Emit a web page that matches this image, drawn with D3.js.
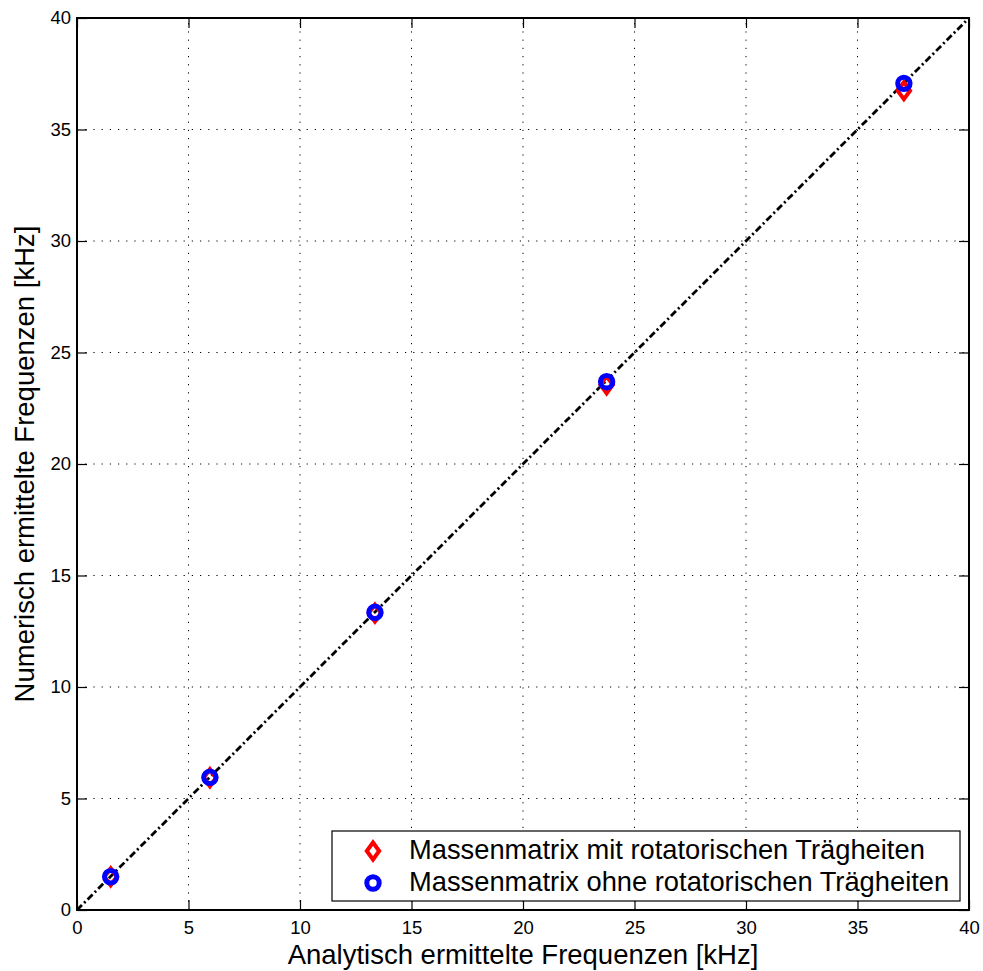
<!DOCTYPE html>
<html>
<head>
<meta charset="utf-8">
<script src="https://cdn.jsdelivr.net/npm/d3@7"></script>
<style>
  body { margin: 0; background: #fff; }
  svg { font-family: "Liberation Sans", Arial, Helvetica, sans-serif; }
  .axis text { font-size: 18.5px; fill: #000; }
  .axis line { stroke: #000; stroke-width: 1.2; }
  .axis path { display: none; }
</style>
</head>
<body>
<svg id="chart"></svg>
<script>
const width = 983;
const height = 971;
const margin = { top: 18, right: 14, bottom: 61, left: 77 };

// data (kHz)
const analytisch = [1.51, 5.96, 13.36, 23.75, 37.08];
const mitRotation = [1.49, 5.93, 13.31, 23.55, 36.74];
const ohneRotation = [1.49, 5.95, 13.35, 23.69, 37.07];
const tickValues = [0, 5, 10, 15, 20, 25, 30, 35, 40];
const legendLabels = [
  "Massenmatrix mit rotatorischen Trägheiten",
  "Massenmatrix ohne rotatorischen Trägheiten"
];

const svg = d3.select("#chart")
  .attr("width", width)
  .attr("height", height);

const x = d3.scaleLinear()
  .domain([0, 40])
  .range([margin.left, width - margin.right]);

const y = d3.scaleLinear()
  .domain([0, 40])
  .range([height - margin.bottom, margin.top]);

// grid
const grid = svg.append("g").attr("class", "grid")
  .attr("stroke", "#000")
  .attr("stroke-width", 1)
  .attr("stroke-dasharray", "1.2,7");

grid.selectAll(".vgrid")
  .data(tickValues.slice(1))
  .enter()
  .append("line")
  .attr("x1", d => x(d)).attr("x2", d => x(d))
  .attr("y1", y(0)).attr("y2", y(40));

grid.selectAll(".hgrid")
  .data(tickValues.slice(1))
  .enter()
  .append("line")
  .attr("x1", x(0)).attr("x2", x(40))
  .attr("y1", d => y(d)).attr("y2", d => y(d));

// axes, ticks pointing inward
svg.append("g")
  .attr("class", "axis")
  .attr("transform", `translate(0, ${y(0)})`)
  .call(d3.axisBottom(x).tickValues(tickValues).tickSizeInner(-10).tickSizeOuter(0).tickPadding(11));

svg.append("g")
  .attr("class", "axis")
  .attr("transform", `translate(${x(0)}, 0)`)
  .call(d3.axisLeft(y).tickValues(tickValues).tickSizeInner(-10).tickSizeOuter(0).tickPadding(6));

svg.append("g")
  .attr("class", "axis")
  .attr("transform", `translate(0, ${y(40)})`)
  .call(d3.axisTop(x).tickValues(tickValues).tickSizeInner(-10).tickSizeOuter(0).tickFormat(""));

svg.append("g")
  .attr("class", "axis")
  .attr("transform", `translate(${x(40)}, 0)`)
  .call(d3.axisRight(y).tickValues(tickValues).tickSizeInner(-10).tickSizeOuter(0).tickFormat(""));

// frame
svg.append("rect")
  .attr("x", x(0))
  .attr("y", y(40))
  .attr("width", x(40) - x(0))
  .attr("height", y(0) - y(40))
  .attr("fill", "none")
  .attr("stroke", "#000")
  .attr("stroke-width", 2);

// diagonal reference line
svg.append("path")
  .datum([0, 40])
  .attr("d", d3.line().x(d => x(d)).y(d => y(d)))
  .attr("fill", "none")
  .attr("stroke", "#000")
  .attr("stroke-width", 2.8)
  .attr("stroke-dasharray", "7,3,2,3");

// markers
const diamond = "M0,-8.5L6.2,0L0,8.5L-6.2,0Z";

svg.selectAll(".mit")
  .data(analytisch)
  .enter()
  .append("path")
  .attr("class", "mit")
  .attr("d", diamond)
  .attr("transform", (d, i) => `translate(${x(d)}, ${y(mitRotation[i])})`)
  .attr("fill", "none")
  .attr("stroke", "#ff0000")
  .attr("stroke-width", 4);

svg.selectAll(".ohne")
  .data(analytisch)
  .enter()
  .append("circle")
  .attr("class", "ohne")
  .attr("cx", d => x(d))
  .attr("cy", (d, i) => y(ohneRotation[i]))
  .attr("r", 6.2)
  .attr("fill", "none")
  .attr("stroke", "#0000ff")
  .attr("stroke-width", 5);

// axis labels
svg.append("text")
  .attr("x", (x(0) + x(40)) / 2)
  .attr("y", 964)
  .attr("text-anchor", "middle")
  .attr("font-size", 27.5)
  .text("Analytisch ermittelte Frequenzen [kHz]");

svg.append("text")
  .attr("transform", `translate(34, ${(y(0) + y(40)) / 2}) rotate(-90)`)
  .attr("text-anchor", "middle")
  .attr("font-size", 27.5)
  .text("Numerisch ermittelte Frequenzen [kHz]");

// legend
const legend = svg.append("g").attr("transform", "translate(332, 831)");

legend.append("rect")
  .attr("width", 628)
  .attr("height", 70)
  .attr("fill", "#fff")
  .attr("stroke", "#000")
  .attr("stroke-width", 1.2);

legend.append("path")
  .attr("d", diamond)
  .attr("transform", "translate(41, 20)")
  .attr("fill", "none")
  .attr("stroke", "#ff0000")
  .attr("stroke-width", 4);

legend.append("circle")
  .attr("cx", 41)
  .attr("cy", 52)
  .attr("r", 6.2)
  .attr("fill", "none")
  .attr("stroke", "#0000ff")
  .attr("stroke-width", 5);

legend.selectAll(".label")
  .data(legendLabels)
  .enter()
  .append("text")
  .attr("class", "label")
  .attr("x", 77)
  .attr("y", (d, i) => 28 + i * 32)
  .attr("font-size", 27.3)
  .text(d => d);
</script>
</body>
</html>
